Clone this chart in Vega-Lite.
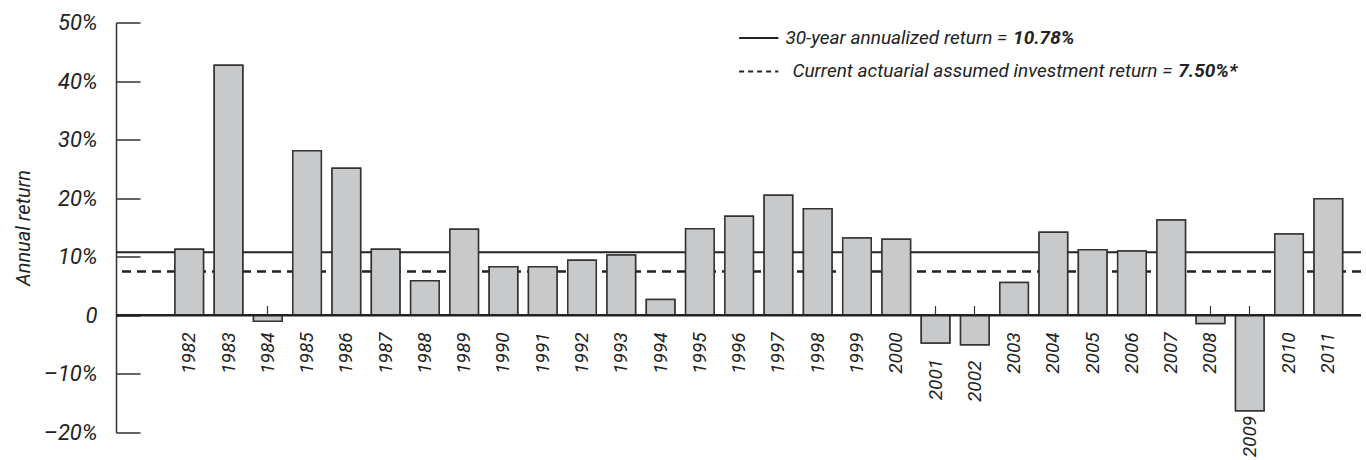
{
  "$schema": "https://vega.github.io/schema/vega-lite/v6.json",
  "width": 1245,
  "height": 410,
  "autosize": {"type": "none"},
  "padding": {"left": 116, "top": 22.5, "right": 5, "bottom": 27.5},
  "background": "white",
  "config": {"view": {"stroke": null}, "font": "Roboto"},
  "datasets": {
    "returns": [
      {"year": "1982", "value": 11.3},
      {"year": "1983", "value": 42.7},
      {"year": "1984", "value": -1.0},
      {"year": "1985", "value": 28.1},
      {"year": "1986", "value": 25.1},
      {"year": "1987", "value": 11.3},
      {"year": "1988", "value": 5.9},
      {"year": "1989", "value": 14.7},
      {"year": "1990", "value": 8.3},
      {"year": "1991", "value": 8.3},
      {"year": "1992", "value": 9.4},
      {"year": "1993", "value": 10.3},
      {"year": "1994", "value": 2.7},
      {"year": "1995", "value": 14.8},
      {"year": "1996", "value": 16.9},
      {"year": "1997", "value": 20.5},
      {"year": "1998", "value": 18.2},
      {"year": "1999", "value": 13.2},
      {"year": "2000", "value": 13.0},
      {"year": "2001", "value": -4.7},
      {"year": "2002", "value": -5.0},
      {"year": "2003", "value": 5.6},
      {"year": "2004", "value": 14.2},
      {"year": "2005", "value": 11.2},
      {"year": "2006", "value": 11.0},
      {"year": "2007", "value": 16.3},
      {"year": "2008", "value": -1.4},
      {"year": "2009", "value": -16.3},
      {"year": "2010", "value": 13.9},
      {"year": "2011", "value": 19.9}
    ],
    "one": [{"k": 1}]
  },
  "layer": [
    {
      "data": {"name": "returns"},
      "mark": {"type": "bar", "fill": "#c8c9cb", "stroke": "#333333", "strokeWidth": 1.5},
      "encoding": {
        "x": {
          "field": "year",
          "type": "nominal",
          "sort": "ascending",
          "scale": {"paddingInner": 0.274, "paddingOuter": 0.985, "align": 0.762},
          "axis": {
            "orient": "bottom",
            "offset": -117,
            "labels": false,
            "domain": false,
            "ticks": true,
            "tickSize": -10,
            "tickColor": "#333333",
            "tickWidth": 1.2,
            "title": null,
            "grid": false
          }
        },
        "y": {
          "field": "value",
          "type": "quantitative",
          "scale": {"domain": [-20, 50], "nice": false, "zero": false},
          "axis": {
            "values": [-20, -10, 0, 10, 20, 30, 40, 50],
            "labelExpr": "datum.value == 0 ? '0' : (datum.value < 0 ? '–' + abs(datum.value) + '%' : datum.value + '%')",
            "grid": false,
            "domainColor": "#333333",
            "domainWidth": 1.5,
            "tickColor": "#333333",
            "tickWidth": 1.5,
            "tickSize": -24,
            "labelPadding": 43,
            "labelFont": "Roboto",
            "labelFontStyle": "italic",
            "labelFontSize": 22,
            "labelColor": "#222222",
            "title": "Annual return",
            "titleFont": "Roboto",
            "titleFontStyle": "italic",
            "titleFontWeight": "normal",
            "titleFontSize": 20,
            "titleColor": "#222222",
            "titlePadding": 10
          }
        }
      }
    },
    {
      "data": {"name": "one"},
      "mark": {"type": "rule", "stroke": "#222222", "strokeWidth": 2},
      "encoding": {"y": {"datum": 10.78}}
    },
    {
      "data": {"name": "one"},
      "mark": {"type": "rule", "stroke": "#222222", "strokeWidth": 2.5, "strokeDash": [9, 6]},
      "encoding": {"y": {"datum": 7.5}}
    },
    {
      "data": {"name": "returns"},
      "mark": {"type": "bar", "fill": "#c8c9cb", "stroke": "#333333", "strokeWidth": 1.5},
      "encoding": {
        "x": {"field": "year", "type": "nominal"},
        "y": {"field": "value", "type": "quantitative"}
      }
    },
    {
      "data": {"name": "one"},
      "mark": {"type": "rule", "stroke": "#222222", "strokeWidth": 2.5},
      "encoding": {"y": {"datum": 0}}
    },
    {
      "data": {"name": "returns"},
      "transform": [{"filter": "datum.value >= -3"}],
      "mark": {"type": "text", "angle": 270, "align": "right", "baseline": "middle", "dx": -17, "font": "Roboto", "fontStyle": "italic", "fontSize": 19, "fill": "#222222"},
      "encoding": {
        "x": {"field": "year", "type": "nominal"},
        "y": {"datum": 0},
        "text": {"field": "year"}
      }
    },
    {
      "data": {"name": "returns"},
      "transform": [{"filter": "datum.value < -3 && datum.value > -10"}],
      "mark": {"type": "text", "angle": 270, "align": "right", "baseline": "middle", "dx": -16, "font": "Roboto", "fontStyle": "italic", "fontSize": 19, "fill": "#222222"},
      "encoding": {
        "x": {"field": "year", "type": "nominal"},
        "y": {"field": "value", "type": "quantitative"},
        "text": {"field": "year"}
      }
    },
    {
      "data": {"name": "returns"},
      "transform": [{"filter": "datum.value <= -10"}],
      "mark": {"type": "text", "angle": 270, "align": "right", "baseline": "middle", "dx": -5, "font": "Roboto", "fontStyle": "italic", "fontSize": 19, "fill": "#222222"},
      "encoding": {
        "x": {"field": "year", "type": "nominal"},
        "y": {"field": "value", "type": "quantitative"},
        "text": {"field": "year"}
      }
    },
    {
      "data": {"name": "one"},
      "mark": {"type": "rule", "stroke": "#222222", "strokeWidth": 2},
      "encoding": {"x": {"datum": "1996"}, "x2": {"datum": "1997"}, "y": {"datum": 47.35}}
    },
    {
      "data": {"name": "one"},
      "mark": {"type": "rule", "stroke": "#222222", "strokeWidth": 2, "strokeDash": [5, 4]},
      "encoding": {"x": {"datum": "1996"}, "x2": {"datum": "1997"}, "y": {"datum": 41.64}}
    },
    {
      "data": {"name": "one"},
      "mark": {"type": "text", "align": "left", "baseline": "middle", "dx": 7, "font": "Roboto", "fontStyle": "italic", "fontSize": 19, "fill": "#222222"},
      "encoding": {"x": {"datum": "1997"}, "y": {"datum": 47.35}, "text": {"value": "30-year annualized return ="}}
    },
    {
      "data": {"name": "one"},
      "mark": {"type": "text", "align": "left", "baseline": "middle", "dx": -1, "font": "Roboto", "fontStyle": "italic", "fontWeight": "bold", "fontSize": 19, "fill": "#222222"},
      "encoding": {"x": {"datum": "2003"}, "y": {"datum": 47.35}, "text": {"value": "10.78%"}}
    },
    {
      "data": {"name": "one"},
      "mark": {"type": "text", "align": "left", "baseline": "middle", "dx": 14, "font": "Roboto", "fontStyle": "italic", "fontSize": 19, "fill": "#222222"},
      "encoding": {"x": {"datum": "1997"}, "y": {"datum": 41.64}, "text": {"value": "Current actuarial assumed investment return ="}}
    },
    {
      "data": {"name": "one"},
      "mark": {"type": "text", "align": "left", "baseline": "middle", "dx": 7, "font": "Roboto", "fontStyle": "italic", "fontWeight": "bold", "fontSize": 19, "fill": "#222222"},
      "encoding": {"x": {"datum": "2007"}, "y": {"datum": 41.64}, "text": {"value": "7.50%*"}}
    }
  ]
}
